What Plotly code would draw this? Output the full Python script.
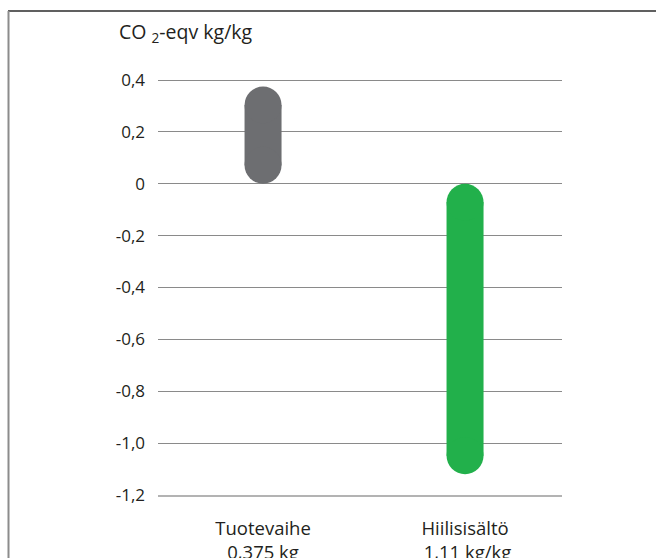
import plotly.graph_objects as go

# ---- data ----
categories = ["Tuotevaihe", "Hiilisisältö"]
category_labels = ["Tuotevaihe<br>0,375 kg", "Hiilisisältö<br> 1,11 kg/kg"]
bar_low = [0.0, -1.12]
bar_high = [0.375, 0.0]
bar_colors = ["#6d6e71", "#22b04b"]
y_tick_vals = [0.4, 0.2, 0.0, -0.2, -0.4, -0.6, -0.8, -1.0, -1.2]
y_tick_text = ["0,4", "0,2", "0", "-0,2", "-0,4", "-0,6", "-0,8", "-1,0", "-1,2"]

FONT = "Open Sans"
TEXT_COLOR = "#231f20"

W, H = 656, 558
L, R = 158, 562          # plot area x pixels
T, B = 75, 495           # plot area y pixels
y_min = -1.2
px_per_unit = (B - 80) / 1.6
y_max = 0.4 + (80 - T) / px_per_unit

BAR_PX = 37
r_data = (BAR_PX / 2) / px_per_unit

fig = go.Figure()

# capsule bars: thick line with round ends (circle markers of same diameter)
for cat, lo, hi, col in zip(categories, bar_low, bar_high, bar_colors):
    y0 = lo + r_data
    y1 = hi - r_data
    fig.add_trace(go.Scatter(x=[cat, cat], y=[y0, y1], mode="lines+markers",
                             line=dict(color=col, width=BAR_PX),
                             marker=dict(color=col, size=BAR_PX, symbol="circle",
                                         line=dict(width=0)),
                             showlegend=False, hoverinfo="skip", cliponaxis=False))

def px_x(p):
    return (p - L) / (R - L)

def px_y(p):
    return (B - p) / (B - T)

shapes = [
    # frame: top and left lines
    dict(type="line", xref="paper", yref="paper", x0=px_x(8), x1=px_x(660),
         y0=px_y(11), y1=px_y(11), line=dict(color="#2b2b2b", width=1.5)),
    dict(type="line", xref="paper", yref="paper", x0=px_x(8.5), x1=px_x(8.5),
         y0=px_y(11), y1=px_y(560), line=dict(color="#8c8c8c", width=2)),
]

fig.update_layout(
    width=W, height=H,
    margin=dict(l=L, r=W - R, t=T, b=H - B, pad=0, autoexpand=False),
    paper_bgcolor="white", plot_bgcolor="white",
    font=dict(family=FONT, color=TEXT_COLOR, size=16),
    shapes=shapes,
    annotations=[dict(text="CO <sub>2</sub>-eqv kg/kg", xref="paper", yref="paper",
                      x=px_x(117), y=px_y(33), xanchor="left", yanchor="middle",
                      showarrow=False, font=dict(size=19.5, family=FONT, color=TEXT_COLOR))],
    xaxis=dict(type="category", categoryorder="array", categoryarray=categories,
               range=[-0.52, 1.48], showgrid=False, zeroline=False, automargin=False,
               showline=True, linecolor="#b3b3b3", linewidth=2,
               tickmode="array", tickvals=categories, ticktext=category_labels,
               ticks="", ticklabelstandoff=16,
               tickfont=dict(size=18.5, family=FONT, color=TEXT_COLOR)),
    yaxis=dict(range=[y_min, y_max], tickmode="array", tickvals=y_tick_vals,
               ticktext=y_tick_text, showgrid=True, gridcolor="#8a8a8a", gridwidth=1,
               zeroline=False, showline=False, ticks="", ticklabelstandoff=12,
               automargin=False,
               tickfont=dict(size=17, family=FONT, color=TEXT_COLOR)),
)

fig.write_html("out.html")
